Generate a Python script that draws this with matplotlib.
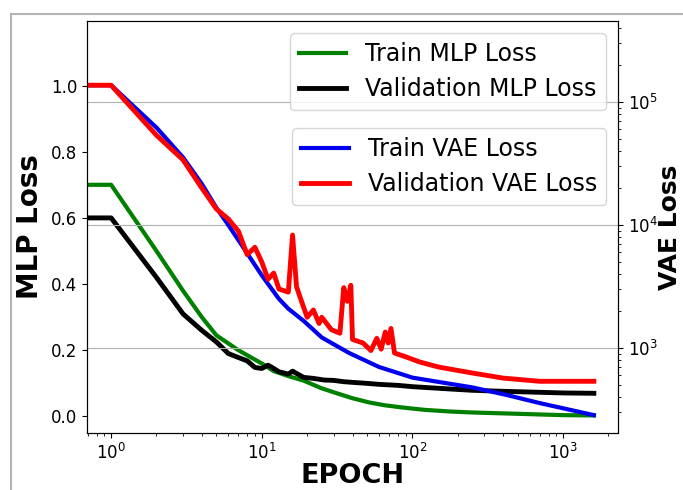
import matplotlib
matplotlib.use("Agg")
import matplotlib.pyplot as plt
from matplotlib.patches import Rectangle

# epochs / values
mlp_train_epoch = [0, 1, 2, 3, 4, 5, 7, 10, 12, 15, 19, 25, 32, 40, 52, 65, 86,
                   120, 177, 250, 424, 700, 1000, 1600]
mlp_train_loss = [0.70, 0.70, 0.50, 0.38, 0.30, 0.245, 0.20, 0.16, 0.137, 0.122,
                  0.108, 0.085, 0.069, 0.055, 0.042, 0.034, 0.027, 0.020, 0.015,
                  0.012, 0.009, 0.006, 0.004, 0.003]

mlp_val_epoch = [0, 1, 2, 3, 4, 5, 6, 7, 8, 9, 10, 11, 12, 13, 15, 16, 17, 19,
                 22, 26, 30, 35, 40, 50, 60, 80, 100, 150, 250, 400, 700, 1000, 1600]
mlp_val_loss = [0.60, 0.60, 0.42, 0.31, 0.26, 0.225, 0.19, 0.178, 0.168, 0.148,
                0.145, 0.155, 0.145, 0.135, 0.128, 0.137, 0.13, 0.118, 0.115, 0.11,
                0.109, 0.105, 0.103, 0.10, 0.097, 0.094, 0.09, 0.085, 0.079, 0.076,
                0.073, 0.071, 0.070]

vae_train_epoch = [0, 1, 2, 3, 4, 5, 6, 8, 10, 13, 15, 19, 25, 38, 60, 100, 150,
                   250, 424, 700, 1000, 1600]
vae_train_loss = [1.37e5, 1.37e5, 6.2e4, 3.55e4, 2.16e4, 1.38e4, 1.0e4, 5890, 3900,
                  2510, 2090, 1660, 1220, 912, 702, 575, 530, 479, 415, 357, 324, 285]

vae_val_epoch = [0, 1, 2, 3, 4, 5, 6, 7, 8, 9, 10, 11, 12, 13, 15, 16, 17, 18, 20,
                 22, 24, 25, 29, 33, 35, 37, 39, 40, 47, 53, 58, 62, 66, 69, 72, 76,
                 90, 112, 150, 250, 400, 700, 1600]
vae_val_loss = [1.37e5, 1.37e5, 5.37e4, 3.39e4, 2.0e4, 1.35e4, 1.12e4, 8900, 5750,
                6600, 5000, 3630, 4070, 3020, 2850, 8300, 3160, 2570, 1780, 2040, 1585,
                1780, 1410, 1320, 3100, 2400, 3240, 1175, 1100, 955, 1200, 980, 1350,
                1100, 1445, 912, 850, 770, 700, 627, 570, 537, 537]

fig = plt.figure(figsize=(6.83, 4.9), dpi=100)
ax = fig.add_axes([87 / 683, 1 - 433 / 490, (618 - 87) / 683, (433 - 21) / 490])
ax2 = ax.twinx()

l1, = ax.plot(mlp_train_epoch, mlp_train_loss, color='green', lw=3, label='Train MLP Loss')
l2, = ax.plot(mlp_val_epoch, mlp_val_loss, color='black', lw=3.5, label='Validation MLP Loss')
l3, = ax2.plot(vae_train_epoch, vae_train_loss, color='#0000ee', lw=3, label='Train VAE Loss')
l4, = ax2.plot(vae_val_epoch, vae_val_loss, color='red', lw=3.5, label='Validation VAE Loss')

ax.set_xscale('log')
ax2.set_yscale('log')
ax.set_ylim(-0.05, 1.195)
ax2.set_ylim(204, 4.56e5)
ax.set_yticks([0.0, 0.2, 0.4, 0.6, 0.8, 1.0])
ax2.grid(True, which='major', color='#b0b0b0', lw=0.8)

ax.tick_params(labelsize=12)
ax2.tick_params(labelsize=12)
ax.set_xlabel('EPOCH', fontsize=19.5, fontweight='bold', labelpad=0)
ax.set_ylabel('MLP Loss', fontsize=20, fontweight='bold', labelpad=5)
ax2.set_ylabel('VAE Loss', fontsize=18, fontweight='bold', labelpad=0)

leg1 = ax2.legend(handles=[l1, l2], loc='upper right', fontsize=17,
                  labelspacing=0.45, borderpad=0.4)
ax2.add_artist(leg1)
ax2.legend(handles=[l3, l4], loc='upper right', bbox_to_anchor=(1.0, (433 - 116) / 412),
           fontsize=17, labelspacing=0.45, borderpad=0.4)

# grey frame of the screenshot
fig.add_artist(Rectangle((11 / 683, -0.2), 1.2, 1.2 - 14 / 490, fill=False,
                         edgecolor='#b4b4b4', lw=1.5, transform=fig.transFigure))

fig.savefig('out.png', dpi=100)
